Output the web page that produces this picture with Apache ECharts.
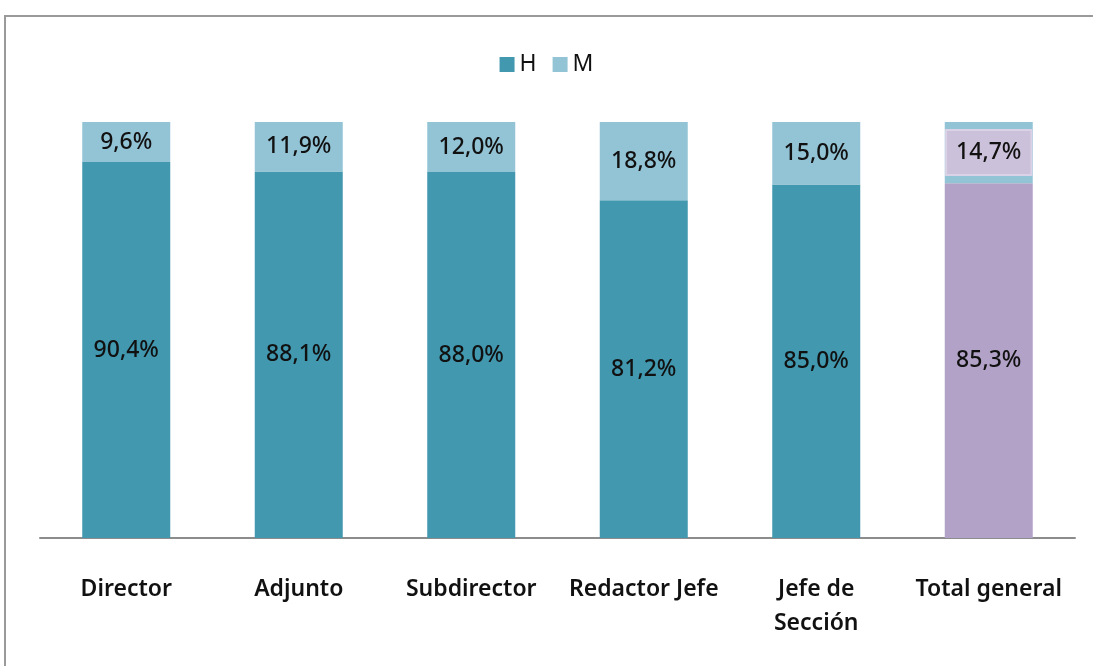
<!DOCTYPE html>
<html>
<head>
<meta charset="utf-8">
<script src="https://cdn.jsdelivr.net/npm/echarts@6/dist/echarts.min.js"></script>
<style>
  html, body { margin: 0; padding: 0; background: #fff; }
  #chart { width: 1093px; height: 666px; }
</style>
</head>
<body>
<div id="chart"></div>
<script>
var categories = ['Director', 'Adjunto', 'Subdirector', 'Redactor Jefe', 'Jefe de\nSección', 'Total general'];
var hValues = [90.4, 88.1, 88.0, 81.2, 85.0, 85.3];
var mValues = [9.6, 11.9, 12.0, 18.8, 15.0, 14.7];

var font = '"Noto Sans", sans-serif';
var fmt = function (p) { return p.value.toFixed(1).replace('.', ',') + '%'; };

var hData = hValues.map(function (v, i) {
  // la última barra (total) va en morado
  if (i === hValues.length - 1) return { value: v, itemStyle: { color: '#B3A2C7' } };
  return v;
});
var mData = mValues.map(function (v, i) {
  if (i === mValues.length - 1) {
    return {
      value: v,
      label: {
        backgroundColor: '#CCC1DA',
        borderColor: '#DAD2E6',
        borderWidth: 2,
        padding: [11, 9, 9, 9]
      }
    };
  }
  return v;
});

var chart = echarts.init(document.getElementById('chart'));
chart.setOption({
  animation: false,
  textStyle: { fontFamily: font },
  graphic: [{
    type: 'polyline',
    shape: { points: [[5, 666], [5, 16], [1093, 16]] },
    style: { stroke: '#9a9a9a', lineWidth: 2, fill: null }
  }],
  legend: {
    top: 48,
    left: 'center',
    icon: 'rect',
    itemWidth: 15,
    itemHeight: 15,
    itemGap: 16,
    textStyle: { fontSize: 23, color: '#111', fontFamily: font },
    data: ['H', 'M']
  },
  grid: { left: 40, right: 18, top: 122, bottom: 128 },
  xAxis: {
    type: 'category',
    data: categories,
    axisTick: { show: false },
    axisLine: { lineStyle: { color: '#8c8c8c', width: 2 } },
    axisLabel: {
      margin: 34,
      fontSize: 23,
      fontWeight: 600,
      color: '#111',
      lineHeight: 34,
      interval: 0,
      fontFamily: font
    }
  },
  yAxis: {
    type: 'value',
    min: 0,
    max: 100,
    show: false,
    splitLine: { show: false }
  },
  series: [{
    name: 'H',
    type: 'bar',
    stack: 'total',
    barWidth: 88,
    itemStyle: { color: '#4198AF' },
    label: { show: true, position: 'inside', fontSize: 23, fontWeight: 500, color: '#111', formatter: fmt, fontFamily: font },
    data: hData
  }, {
    name: 'M',
    type: 'bar',
    stack: 'total',
    barWidth: 88,
    itemStyle: { color: '#93C4D6' },
    label: { show: true, position: 'inside', fontSize: 23, fontWeight: 500, color: '#111', formatter: fmt, fontFamily: font },
    data: mData
  }]
});
</script>
</body>
</html>
